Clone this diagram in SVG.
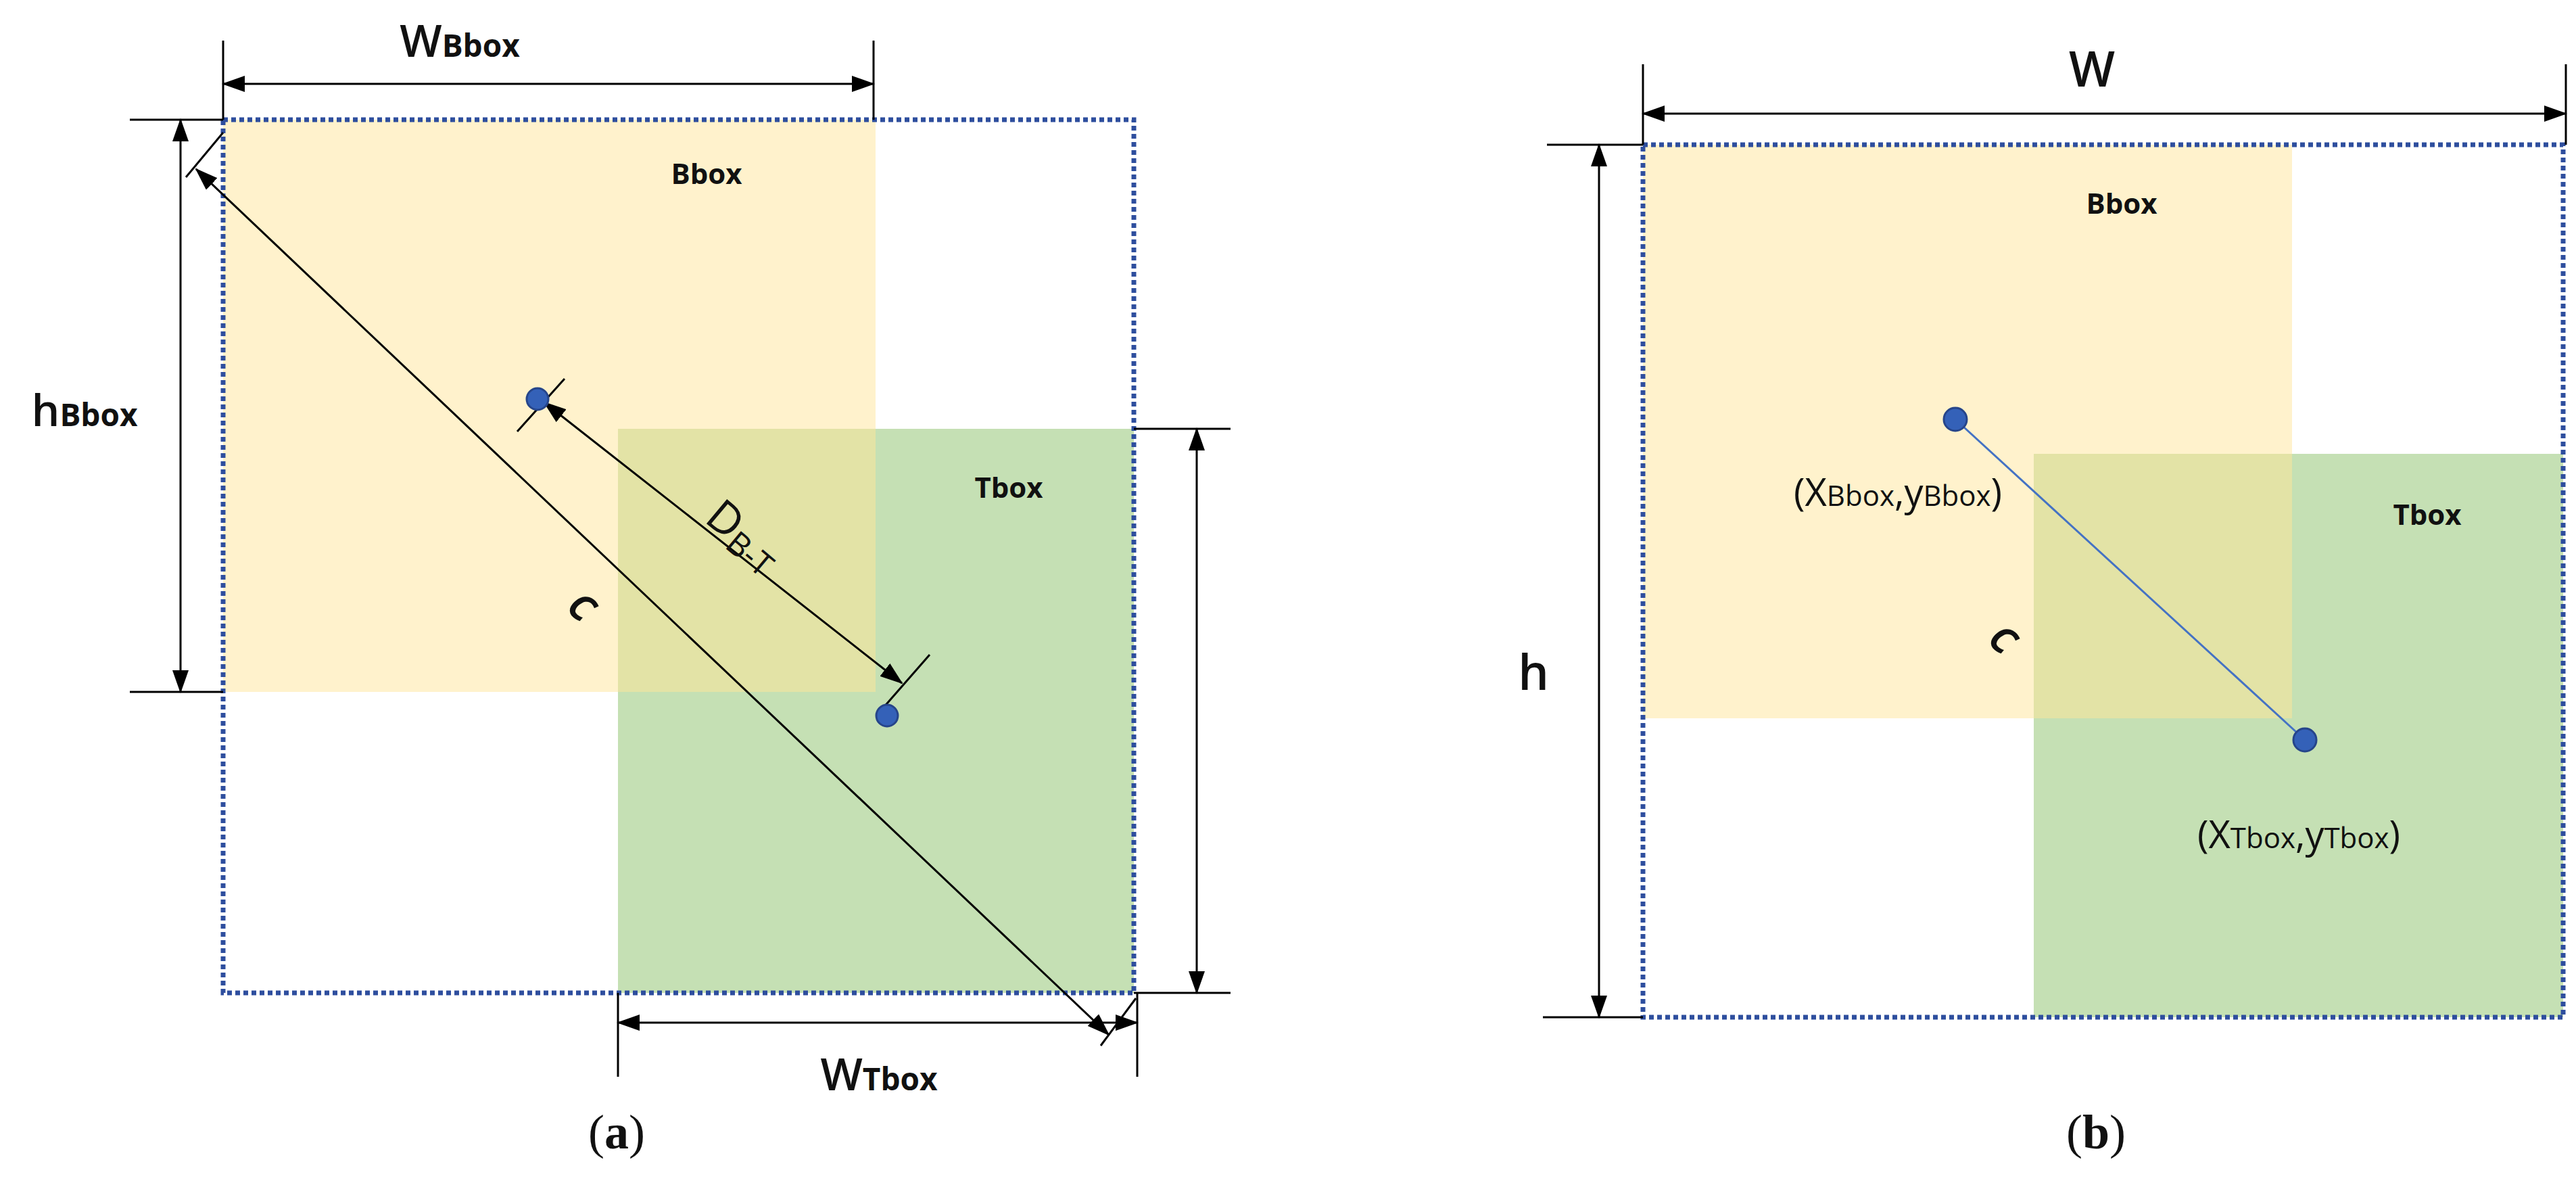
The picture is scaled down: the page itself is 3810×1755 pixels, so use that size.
<svg xmlns="http://www.w3.org/2000/svg" width="3810" height="1755" viewBox="0 0 3810 1755">
<defs>
<marker id="ah" markerUnits="userSpaceOnUse" markerWidth="34" markerHeight="24" refX="32" refY="12" orient="auto-start-reverse"><path d="M0,0 L34,12 L0,24 z" fill="#000"/></marker>
<style>
.ln{stroke:#000;stroke-width:3;fill:none}
.ar{stroke:#000;stroke-width:3;fill:none;marker-start:url(#ah);marker-end:url(#ah)}
.dot{fill:none;stroke:#2E4E9E;stroke-width:7;stroke-dasharray:7 5}
.t{font-family:"Open Sans","Liberation Sans",sans-serif;fill:#111}
.lb{font-family:"Open Sans","Liberation Sans",sans-serif;font-weight:bold;font-size:42px;fill:#111}
.cap{font-family:"Liberation Serif",serif;font-size:72px;fill:#111}
.pt{fill:#3461B8;stroke:#26458A;stroke-width:3}
</style>
</defs>
<g id="panel-a">
<g id="a-bbox"><rect x="330" y="177" width="965" height="846" fill="#FFF2CC"/><text class="lb" x="1045" y="272" text-anchor="middle">Bbox</text></g>
<g id="a-tbox"><rect x="914" y="634" width="763" height="834" fill="#C5E0B4"/><rect x="914" y="634" width="381" height="389" fill="#E3E3A6"/><text class="lb" x="1492" y="736" text-anchor="middle">Tbox</text></g>
<rect id="a-frame" class="dot" x="330" y="177" width="1347" height="1291"/>
<g id="a-connectors">
<line class="ln" x1="330" y1="60" x2="330" y2="177"/><line class="ln" x1="1292" y1="60" x2="1292" y2="177"/>
<line class="ar" x1="330" y1="124" x2="1292" y2="124"/>
<line class="ln" x1="192" y1="177" x2="330" y2="177"/><line class="ln" x1="192" y1="1023" x2="330" y2="1023"/>
<line class="ar" x1="267" y1="177" x2="267" y2="1023"/>
<line class="ln" x1="1677" y1="634" x2="1820" y2="634"/><line class="ln" x1="1677" y1="1468" x2="1820" y2="1468"/>
<line class="ar" x1="1770" y1="634" x2="1770" y2="1468"/>
<line class="ln" x1="914" y1="1468" x2="914" y2="1592"/><line class="ln" x1="1682" y1="1468" x2="1682" y2="1592"/>
<line class="ar" x1="914" y1="1512" x2="1682" y2="1512"/>
<line class="ar" x1="290" y1="250" x2="1640" y2="1530"/>
<line class="ln" x1="275" y1="262" x2="330" y2="196"/><line class="ln" x1="1628" y1="1546" x2="1680" y2="1476"/>
<line class="ar" x1="805" y1="595" x2="1334" y2="1010"/>
<line class="ln" x1="765" y1="638" x2="835" y2="560"/><line class="ln" x1="1305" y1="1048" x2="1375" y2="968"/>
</g>
<circle class="pt" cx="795" cy="590" r="16"/><circle class="pt" cx="1312" cy="1058" r="16"/>
<text class="t" font-size="66" font-weight="600" x="680" y="84" text-anchor="middle">W<tspan font-size="46" font-weight="bold">Bbox</tspan></text>
<text class="t" font-size="66" font-weight="600" x="125" y="630" text-anchor="middle">h<tspan font-size="46" font-weight="bold">Bbox</tspan></text>
<text class="t" font-size="66" font-weight="600" x="1300" y="1612" text-anchor="middle">W<tspan font-size="46" font-weight="bold">Tbox</tspan></text>
<text class="t" font-size="66" transform="translate(1040,770) rotate(40)">D<tspan font-size="48" dy="10">B-T</tspan></text>
<text class="t" font-size="54" font-style="italic" font-weight="bold" transform="translate(848,912) rotate(40)" text-anchor="middle">C</text>
<text class="cap" x="912" y="1698" text-anchor="middle">(<tspan font-weight="bold">a</tspan>)</text>
</g>
<g id="panel-b">
<g id="b-bbox"><rect x="2430" y="214" width="960" height="848" fill="#FFF2CC"/><text class="lb" x="3138" y="316" text-anchor="middle">Bbox</text></g>
<g id="b-tbox"><rect x="3008" y="671" width="783" height="833" fill="#C5E0B4"/><rect x="3008" y="671" width="382" height="391" fill="#E3E3A6"/><text class="lb" x="3590" y="776" text-anchor="middle">Tbox</text></g>
<rect id="b-frame" class="dot" x="2430" y="214" width="1361" height="1290"/>
<g id="b-connectors">
<line class="ln" x1="2430" y1="95" x2="2430" y2="214"/><line class="ln" x1="3795" y1="95" x2="3795" y2="214"/>
<line class="ar" x1="2430" y1="168" x2="3795" y2="168"/>
<line class="ln" x1="2288" y1="214" x2="2430" y2="214"/><line class="ln" x1="2282" y1="1504" x2="2430" y2="1504"/>
<line class="ar" x1="2365" y1="214" x2="2365" y2="1504"/>
<line x1="2892" y1="620" x2="3409" y2="1094" stroke="#4472C4" stroke-width="3"/>
</g>
<circle class="pt" cx="2892" cy="620" r="17"/><circle class="pt" cx="3409" cy="1094" r="17"/>
<text class="t" font-size="72" font-weight="600" x="3094" y="128" text-anchor="middle">W</text>
<text class="t" font-size="72" font-weight="600" x="2268" y="1020" text-anchor="middle">h</text>
<text class="t" font-size="56" x="2807" y="748" text-anchor="middle" fill="#333">(X<tspan font-size="42">Bbox</tspan>,y<tspan font-size="42">Bbox</tspan>)</text>
<text class="t" font-size="56" x="3400" y="1254" text-anchor="middle" fill="#333">(X<tspan font-size="42">Tbox</tspan>,y<tspan font-size="42">Tbox</tspan>)</text>
<text class="t" font-size="54" font-style="italic" font-weight="bold" transform="translate(2950,960) rotate(40)" text-anchor="middle">C</text>
<text class="cap" x="3100" y="1698" text-anchor="middle">(<tspan font-weight="bold">b</tspan>)</text>
</g>
</svg>
